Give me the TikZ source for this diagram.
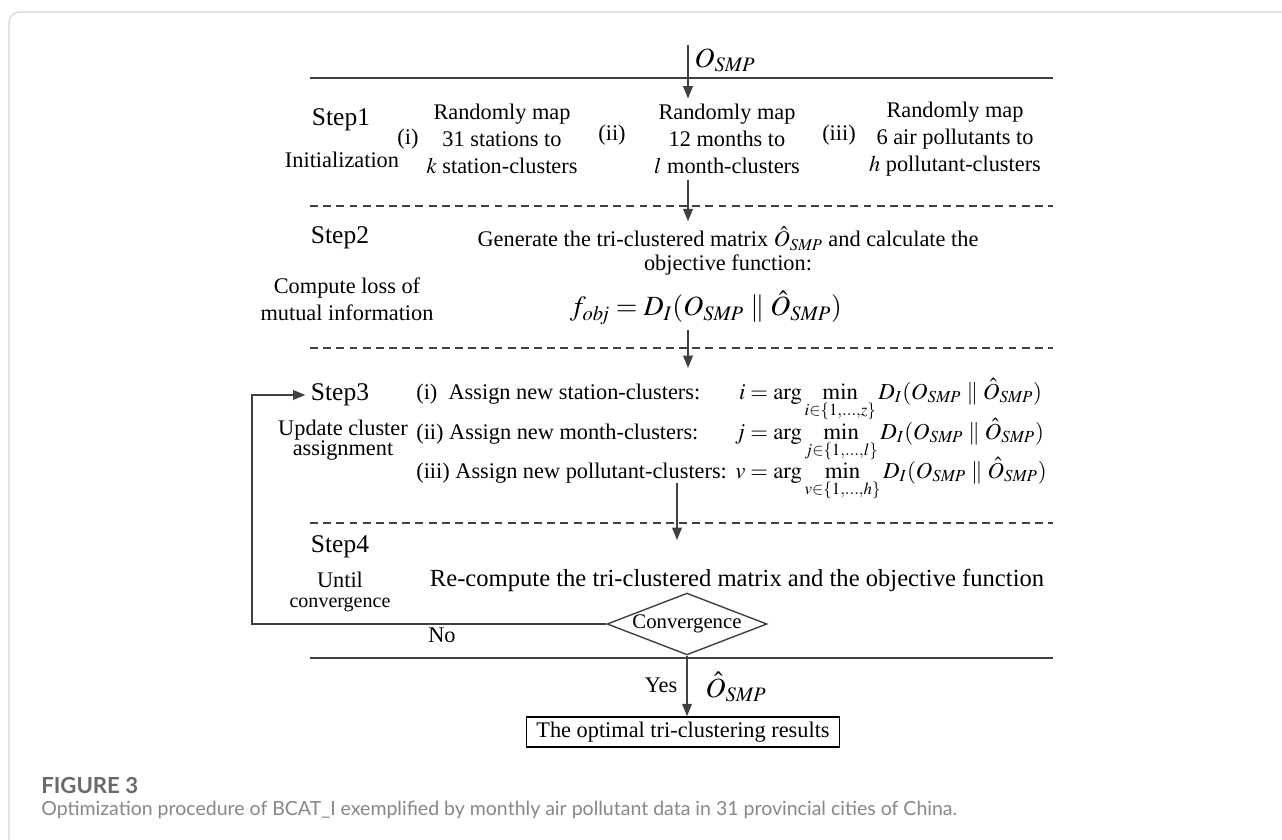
\documentclass[tikz,border=0pt]{standalone}
\usepackage{mathptmx}
\usepackage{fontspec}
\setmainfont{Liberation Serif}
\newfontfamily\capfont{Lato}
\usetikzlibrary{shapes,shapes.geometric,arrows,arrows.meta,positioning}
\definecolor{linegray}{RGB}{64,64,64}
\definecolor{framegray}{RGB}{214,214,214}
\definecolor{capdark}{RGB}{105,105,105}
\definecolor{caplight}{RGB}{135,135,135}
\newcommand{\Osmp}{O_{\mathit{SMP}}}
\newcommand{\Ohat}{\hat{O}_{\mathit{SMP}}}
\newcommand{\DI}{D_I(\Osmp \parallel \Ohat)}

\begin{document}
\begin{tikzpicture}[x=0.2mm,y=-0.2mm,
	txt/.style={font=\fontsize{12.7}{15.4}\selectfont,align=center,inner sep=3pt},
	small/.style={font=\fontsize{11.4}{13}\selectfont,inner sep=3pt},
	steplbl/.style={font=\fontsize{14.5}{17}\selectfont,inner sep=3pt},
	bigmath/.style={font=\fontsize{15.8}{18}\selectfont,inner sep=3pt},
	fml/.style={font=\fontsize{13}{15}\selectfont,inner sep=0pt,anchor=base west},
	flow/.style={draw=linegray,line width=0.8pt,-{Triangle[length=7pt,width=5.5pt]}},
	rule/.style={draw=linegray,line width=0.8pt},
	sep/.style={draw=linegray,line width=0.8pt,dash pattern=on 4.5pt off 3pt}]
			\useasboundingbox (0,0) rectangle (1282,840);
			\draw[framegray,line width=0.7pt,rounded corners=6pt] (9,12) rectangle (1320,900);
			\draw[rule] (310,78) -- (1053,78);
			\draw[sep] (310,206) -- (1053,206);
			\draw[sep] (310,348) -- (1053,348);
			\draw[sep] (310,523) -- (1053,523);
			\draw[rule] (310,658) -- (1053,658);
			\coordinate (top) at (688,45);
			\node[bigmath,anchor=west] (in) at (689,60) {$\Osmp$};
			\node[steplbl] (s1) at (341,120) {Step1};
			\node[txt] (s1d) at (342,160) {Initialization};
			\node[txt] (r1) at (408,139) {(i)};
			\node[txt] (m1) at (502,139) {Randomly map\\31 stations to\\$k$ station-clusters};
			\node[txt] (r2) at (612,135) {(ii)};
			\node[txt] (m2) at (727,139) {Randomly map\\12 months to\\$l$ month-clusters};
			\node[txt] (r3) at (839,135) {(iii)};
			\node[txt] (m3) at (955,139) {Randomly map\\6 air pollutants to\\$h$ pollutant-clusters};
			\node[steplbl] (s2) at (340,238) {Step2};
			\node[txt] (s2d) at (347,299) {Compute loss of\\mutual information};
			\node[txt] (gen) at (728,251) {Generate the tri-clustered matrix $\Ohat$ and calculate the\\[-2pt]objective function:};
			\node[bigmath] (fobj) at (706,308) {$f_{\mathit{obj}}=\DI$};
			\node[steplbl] (s3) at (340,395) {Step3};
			\node[txt,font=\fontsize{12.7}{11.5}\selectfont] (s3d) at (343,440) {Update cluster\\assignment};
			\node[txt,anchor=base west,inner sep=0pt] (a1) at (416,399) {(i)~ Assign new station-clusters:};
			\node[txt,anchor=base west,inner sep=0pt] (a2) at (416,439) {(ii) Assign new month-clusters:};
			\node[txt,anchor=base west,inner sep=0pt] (a3) at (416,478) {(iii) Assign new pollutant-clusters:};
			\node[fml] (e1) at (731,399) {\makebox[8pt][r]{$i$}${}=\arg\min\limits_{i\in\{1,\ldots,z\}} \DI$};
			\node[fml] (e2) at (731,439) {\makebox[8pt][r]{$j$}${}=\arg\min\limits_{j\in\{1,\ldots,l\}} \DI$};
			\node[fml] (e3) at (731,478) {\makebox[8pt][r]{$v$}${}=\arg\min\limits_{v\in\{1,\ldots,h\}} \DI$};
			\node[steplbl] (s4) at (340,547) {Step4};
			\node[txt] (s4a) at (340,580) {Until};
			\node[small] (s4b) at (340,605) {convergence};
			\node[txt,font=\fontsize{14}{16}\selectfont] (rc) at (737,580) {Re-compute the tri-clustered matrix and the objective function};
			\node[draw=linegray,line width=0.8pt,diamond,aspect=2.5,inner sep=0pt,minimum width=3.2cm,minimum height=1.14cm,font=\fontsize{11.8}{13}\selectfont] (conv) at (687,624) {Convergence};
			\node[txt] (no) at (442,635) {No};
			\node[txt] (yes) at (661,685) {Yes};
			\node[bigmath,anchor=west] (out) at (700,687) {$\Ohat$};
			\node[draw=black,line width=1pt,txt,minimum width=6.26cm,minimum height=0.6cm,inner sep=2pt] (res) at (683,732) {The optimal tri-clustering results};
			\coordinate (c3) at (688,368);
			\coordinate (c4) at (677,540);
			\coordinate (back) at (252,624);
			\draw[flow] (top) -- (top |- m2.north);
			\draw[flow] (top |- m2.south) -- (top |- gen.north);
			\draw[flow] (fobj.south -| c3) -- (c3);
			\draw[flow] (a3.south -| c4) -- (c4);
			\draw[flow] (conv.west) -- (back) |- (s3.west);
			\draw[flow] (conv.south) -- (conv.south |- res.north);
			\node[font=\capfont\bfseries\fontsize{12.6}{14}\selectfont,text=capdark,anchor=west,inner sep=0pt] (fig) at (41,785) {FIGURE 3};
			\node[font=\capfont\fontsize{11.1}{13}\selectfont,text=caplight,anchor=west,inner sep=0pt] (cap) at (41,810) {Optimization procedure of BCAT\_I exemplified by monthly air pollutant data in 31 provincial cities of China.};
		\end{tikzpicture}
\end{document}
